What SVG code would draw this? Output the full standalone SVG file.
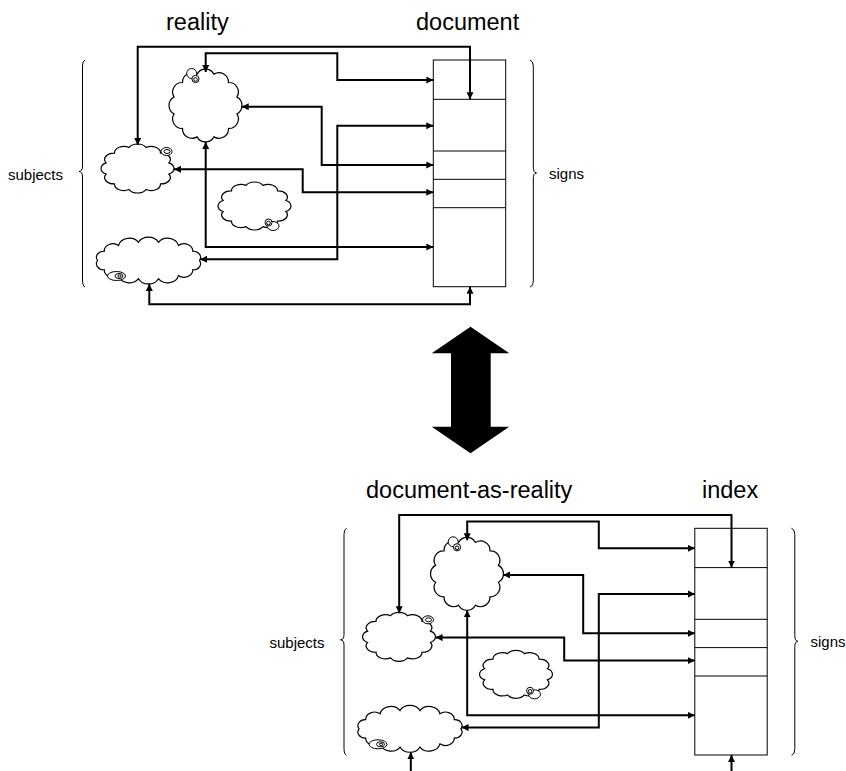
<svg xmlns="http://www.w3.org/2000/svg" width="846" height="771" viewBox="0 0 846 771">
<style>
.title{font-family:"Liberation Sans",Arial,sans-serif;font-size:23.5px;fill:#000}
.lbl{font-family:"Liberation Sans",Arial,sans-serif;font-size:15px;fill:#000}
.conn{fill:none;stroke:#000;stroke-width:2;marker-start:url(#ah);marker-end:url(#ah)}
.conn1{fill:none;stroke:#000;stroke-width:2;marker-end:url(#ah)}
.cloud{fill:#fff;stroke:#000;stroke-width:1.2}
.curl{fill:#fff;stroke:#000;stroke-width:1}
.box{fill:#fff;stroke:#000;stroke-width:1}
.div{fill:none;stroke:#000;stroke-width:1}
.brace{fill:none;stroke:#000;stroke-width:1}
</style>
<defs>
<marker id="ah" markerUnits="userSpaceOnUse" markerWidth="8" markerHeight="8" refX="7" refY="3.5" orient="auto-start-reverse"><path d="M0,0 L7,3.5 L0,7 Z" fill="#000"/></marker>
<path id="cloudR" vector-effect="non-scaling-stroke" d="M42.98,-11.52 A13,13 0 0 1 42.98,11.52 A13,13 0 0 1 31.47,31.47 A13,13 0 0 1 11.52,42.98 A13,13 0 0 1 -11.52,42.98 A13,13 0 0 1 -31.47,31.47 A13,13 0 0 1 -42.98,11.52 A13,13 0 0 1 -42.98,-11.52 A13,13 0 0 1 -31.47,-31.47 A13,13 0 0 1 -11.52,-42.98 A13,13 0 0 1 11.52,-42.98 A13,13 0 0 1 31.47,-31.47 A13,13 0 0 1 42.98,-11.52 Z"/>
<path id="cloudW" vector-effect="non-scaling-stroke" d="M-92,0 A13,13 0 0 1 -80,-19.8 A16,16 0 0 1 -54,-32.4 A20,20 0 0 1 -18,-39.2 A20,20 0 0 1 18,-39.2 A20,20 0 0 1 54,-32.4 A16,16 0 0 1 80,-19.8 A13,13 0 0 1 92,0 A13,13 0 0 1 80,19.8 A16,16 0 0 1 54,32.4 A20,20 0 0 1 18,39.2 A20,20 0 0 1 -18,39.2 A20,20 0 0 1 -54,32.4 A16,16 0 0 1 -80,19.8 A13,13 0 0 1 -92,0 Z"/>
</defs>
<rect x="0" y="0" width="846" height="771" fill="#fff"/>

<!-- ===== Top diagram ===== -->
<g id="top-diagram">
  <text class="title" x="166" y="30">reality</text>
  <text class="title" x="416" y="30">document</text>
  <g id="top-subjects">
    <text class="lbl" x="8" y="179.5">subjects</text>
    <path class="brace" d="M85,60 Q82.5,61 82.5,66 V166 Q82.5,171.5 79,171.5 Q82.5,171.5 82.5,177 V280 Q82.5,286 85,287"/>
  </g>
  <g id="top-signs">
    <text class="lbl" x="549" y="178.5">signs</text>
    <path class="brace" d="M530,60 Q533.3,61 533.3,66 V167 Q533.3,173 536.5,173 Q533.3,173 533.3,179 V280 Q533.3,286 530,287"/>
  </g>
  <g id="top-document">
    <rect class="box" x="433.3" y="60" width="72.4" height="226.7"/>
    <path class="div" d="M433.3,99.3 H505.7 M433.3,151 H505.7 M433.3,179.3 H505.7 M433.3,207.7 H505.7"/>
  </g>
  <g id="top-cloud-a">
    <use href="#cloudR" class="cloud" transform="translate(205.5,105.5) scale(0.73)"/>
    <circle class="curl" cx="191.7" cy="73.5" r="5"/>
    <circle class="curl" cx="195.5" cy="79" r="3.6"/>
    <circle class="curl" cx="195.5" cy="79.5" r="1.8"/>
  </g>
  <g id="top-cloud-b">
    <use href="#cloudR" class="cloud" transform="translate(137.5,168.5) scale(0.73,0.49)"/>
    <ellipse class="curl" cx="166.5" cy="151.5" rx="5.5" ry="4"/>
    <ellipse class="curl" cx="167" cy="151.5" rx="3" ry="2"/>
  </g>
  <g id="top-cloud-c">
    <use href="#cloudR" class="cloud" transform="translate(254.5,206) scale(0.73,0.48)"/>
    <ellipse class="curl" cx="273" cy="226" rx="6" ry="4.5"/>
    <circle class="curl" cx="268.5" cy="222.5" r="3.5"/>
    <circle class="curl" cx="268.5" cy="223" r="1.8"/>
  </g>
  <g id="top-cloud-d">
    <use href="#cloudW" class="cloud" transform="translate(148.5,260.5) scale(0.554,0.465)"/>
    <ellipse class="curl" cx="116.5" cy="276" rx="9" ry="4.5"/>
    <ellipse class="curl" cx="119" cy="276" rx="4" ry="2.5"/>
    <ellipse class="curl" cx="119.5" cy="276" rx="1.6" ry="1.2"/>
  </g>
  <g id="top-connectors">
    <path class="conn" d="M137.7,145 V46.7 H470 V99.3"/>
    <path class="conn" d="M205.7,72 V53.3 H337.3 V80 H433.3"/>
    <path class="conn" d="M241.7,106.7 H321.7 V165 H433.3"/>
    <path class="conn" d="M174,169.3 H302.7 V192.3 H433.3"/>
    <path class="conn" d="M200,259.3 H337.3 V125.7 H433.3"/>
    <path class="conn" d="M205.7,142 V247 H433.3"/>
    <path class="conn" d="M149.3,284 V304.3 H470 V286.7"/>
  </g>
</g>

<!-- ===== Big double arrow ===== -->
<g id="transform-arrow">
  <polygon points="470.5,326.7 509.3,353.3 490.7,353.3 490.7,426.7 509.3,426.7 470.5,453.3 431.7,426.7 451,426.7 451,353.3 431.7,353.3" fill="#000"/>
</g>

<!-- ===== Bottom diagram ===== -->
<g id="bottom-diagram" transform="translate(261.5,468.3)">
  <text class="title" x="104.5" y="30">document-as-reality</text>
  <text class="title" x="440.5" y="29.7">index</text>
  <g id="bottom-subjects">
    <text class="lbl" x="8" y="179.5">subjects</text>
    <path class="brace" d="M85,60 Q82.5,61 82.5,66 V166 Q82.5,171.5 79,171.5 Q82.5,171.5 82.5,177 V280 Q82.5,286 85,287"/>
  </g>
  <g id="bottom-signs">
    <text class="lbl" x="549" y="178.5">signs</text>
    <path class="brace" d="M530,60 Q533.3,61 533.3,66 V167 Q533.3,173 536.5,173 Q533.3,173 533.3,179 V280 Q533.3,286 530,287"/>
  </g>
  <g id="bottom-index">
    <rect class="box" x="433.3" y="60" width="72.4" height="226.7"/>
    <path class="div" d="M433.3,99.3 H505.7 M433.3,151 H505.7 M433.3,179.3 H505.7 M433.3,207.7 H505.7"/>
  </g>
  <g id="bottom-cloud-a">
    <use href="#cloudR" class="cloud" transform="translate(205.5,105.5) scale(0.73)"/>
    <circle class="curl" cx="191.7" cy="73.5" r="5"/>
    <circle class="curl" cx="195.5" cy="79" r="3.6"/>
    <circle class="curl" cx="195.5" cy="79.5" r="1.8"/>
  </g>
  <g id="bottom-cloud-b">
    <use href="#cloudR" class="cloud" transform="translate(137.5,168.5) scale(0.73,0.49)"/>
    <ellipse class="curl" cx="166.5" cy="151.5" rx="5.5" ry="4"/>
    <ellipse class="curl" cx="167" cy="151.5" rx="3" ry="2"/>
  </g>
  <g id="bottom-cloud-c">
    <use href="#cloudR" class="cloud" transform="translate(254.5,206) scale(0.73,0.48)"/>
    <ellipse class="curl" cx="273" cy="226" rx="6" ry="4.5"/>
    <circle class="curl" cx="268.5" cy="222.5" r="3.5"/>
    <circle class="curl" cx="268.5" cy="223" r="1.8"/>
  </g>
  <g id="bottom-cloud-d">
    <use href="#cloudW" class="cloud" transform="translate(148.5,260.5) scale(0.554,0.465)"/>
    <ellipse class="curl" cx="116.5" cy="276" rx="9" ry="4.5"/>
    <ellipse class="curl" cx="119" cy="276" rx="4" ry="2.5"/>
    <ellipse class="curl" cx="119.5" cy="276" rx="1.6" ry="1.2"/>
  </g>
  <g id="bottom-connectors">
    <path class="conn" d="M137.7,145 V46.7 H470 V99.3"/>
    <path class="conn" d="M205.7,72 V53.3 H337.3 V80 H433.3"/>
    <path class="conn" d="M241.7,106.7 H321.7 V165 H433.3"/>
    <path class="conn" d="M174,169.3 H302.7 V192.3 H433.3"/>
    <path class="conn" d="M200,259.3 H337.3 V125.7 H433.3"/>
    <path class="conn" d="M205.7,142 V247 H433.3"/>
    <path class="conn1" d="M149.3,303 V284"/>
    <path class="conn1" d="M470,303 V286.7"/>
  </g>
</g>
</svg>
